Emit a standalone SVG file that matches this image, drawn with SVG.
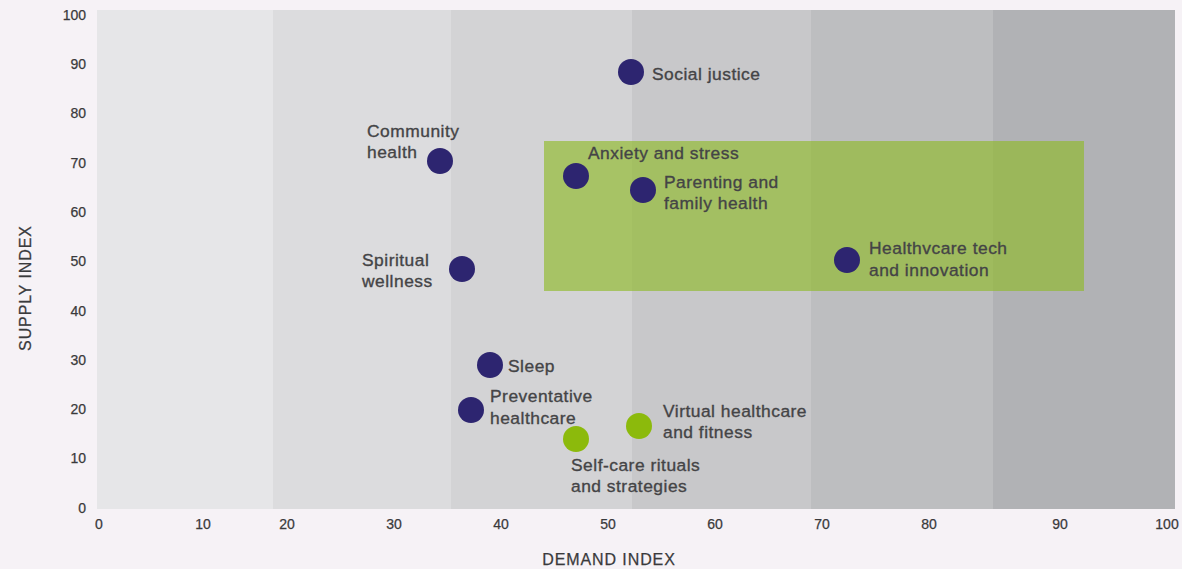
<svg xmlns="http://www.w3.org/2000/svg" width="1182" height="569" viewBox="0 0 1182 569">
<style>
.lbl{font-family:"Liberation Sans",Arial,sans-serif;font-size:17.4px;fill:#444446;stroke:#444446;stroke-width:0.35px;letter-spacing:0.5px}
.tick{font-family:"Liberation Sans",Arial,sans-serif;font-size:14px;fill:#3a3a3c;stroke:#3a3a3c;stroke-width:0.25px}
.ttl{font-family:"Liberation Sans",Arial,sans-serif;font-size:16px;fill:#3a3a3c;stroke:#3a3a3c;stroke-width:0.25px;letter-spacing:0.9px}
.nv{fill:#2d2570}
.gr{fill:#8cba0c}
</style>
<rect width="1182" height="569" fill="#f6f2f6"/>
<g id="bands">
<rect x="97" y="10" width="176" height="499" fill="#e6e6e8"/>
<rect x="273" y="10" width="178" height="499" fill="#dcdcde"/>
<rect x="451" y="10" width="181" height="499" fill="#d3d3d5"/>
<rect x="632" y="10" width="179" height="499" fill="#c8c8ca"/>
<rect x="811" y="10" width="182" height="499" fill="#bdbec0"/>
<rect x="993" y="10" width="182" height="499" fill="#b1b2b5"/>
</g>
<rect id="highlight" x="544" y="141" width="540" height="150" fill="#8fba2a" fill-opacity="0.65"/>
<g id="yaxis" class="tick" text-anchor="end">
<text x="86" y="20">100</text>
<text x="86" y="69">90</text>
<text x="86" y="118">80</text>
<text x="86" y="168">70</text>
<text x="86" y="217">60</text>
<text x="86" y="266">50</text>
<text x="86" y="316">40</text>
<text x="86" y="365">30</text>
<text x="86" y="414">20</text>
<text x="86" y="463">10</text>
<text x="86" y="513">0</text>
</g>
<g id="xaxis" class="tick" text-anchor="middle">
<text x="99" y="529">0</text>
<text x="203" y="529">10</text>
<text x="287" y="529">20</text>
<text x="394" y="529">30</text>
<text x="501" y="529">40</text>
<text x="608" y="529">50</text>
<text x="715" y="529">60</text>
<text x="822" y="529">70</text>
<text x="929" y="529">80</text>
<text x="1060" y="529">90</text>
<text x="1167" y="529">100</text>
</g>
<text class="ttl" x="609" y="565" text-anchor="middle">DEMAND INDEX</text>
<text class="ttl" transform="translate(31,288) rotate(-90)" text-anchor="middle">SUPPLY INDEX</text>
<g id="connectors"></g>
<g id="social-justice"><circle class="nv" cx="631" cy="72" r="13"/><text class="lbl" x="652" y="80">Social justice</text></g>
<g id="community-health"><circle class="nv" cx="440" cy="161" r="13"/><text class="lbl" x="367" y="137">Community</text><text class="lbl" x="367" y="158">health</text></g>
<g id="anxiety-stress"><circle class="nv" cx="576" cy="176" r="13"/><text class="lbl" x="588" y="159">Anxiety and stress</text></g>
<g id="parenting"><circle class="nv" cx="643" cy="190" r="13"/><text class="lbl" x="664" y="188">Parenting and</text><text class="lbl" x="664" y="209">family health</text></g>
<g id="healthcare-tech"><circle class="nv" cx="847" cy="260" r="13"/><text class="lbl" x="869" y="254">Healthvcare tech</text><text class="lbl" x="869" y="276">and innovation</text></g>
<g id="spiritual-wellness"><circle class="nv" cx="462" cy="269" r="13"/><text class="lbl" x="362" y="266">Spiritual</text><text class="lbl" x="362" y="287">wellness</text></g>
<g id="sleep"><circle class="nv" cx="490" cy="365" r="13"/><text class="lbl" x="508" y="372">Sleep</text></g>
<g id="preventative"><circle class="nv" cx="471" cy="410" r="13"/><text class="lbl" x="490" y="402">Preventative</text><text class="lbl" x="490" y="424">healthcare</text></g>
<g id="self-care"><circle class="gr" cx="576" cy="439" r="13"/><text class="lbl" x="571" y="471">Self-care rituals</text><text class="lbl" x="571" y="492">and strategies</text></g>
<g id="virtual"><circle class="gr" cx="639" cy="426" r="13"/><text class="lbl" x="663" y="417">Virtual healthcare</text><text class="lbl" x="663" y="438">and fitness</text></g>
</svg>
